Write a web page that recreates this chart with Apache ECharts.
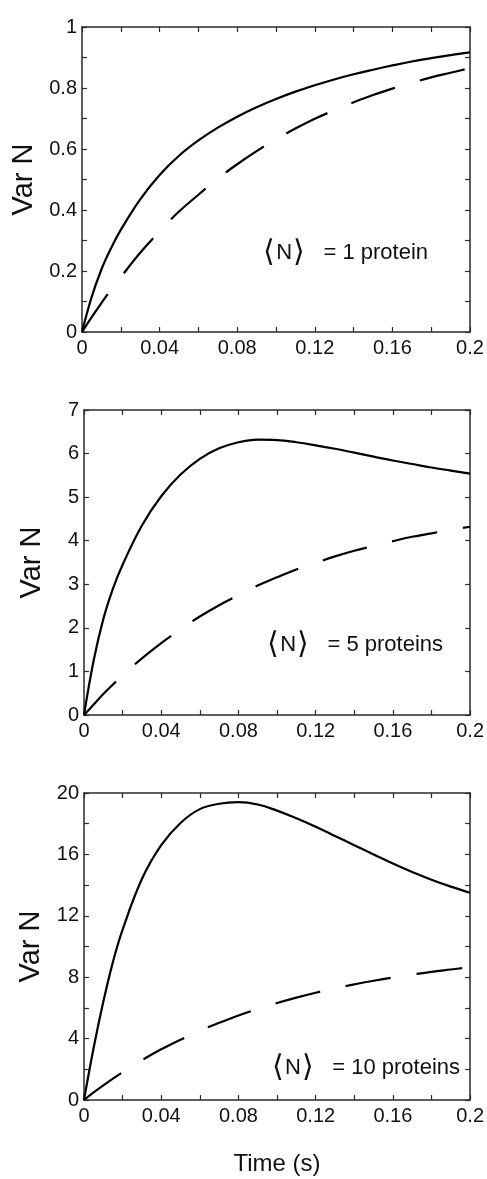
<!DOCTYPE html>
<html>
<head>
<meta charset="utf-8">
<script src="https://cdn.jsdelivr.net/npm/echarts@6/dist/echarts.min.js"></script>
<style>
  html, body { margin: 0; padding: 0; background: #ffffff; }
  #chart { width: 487px; height: 1179px; }
</style>
</head>
<body>
<div id="chart"></div>
<script>
// Sampling times (s)
const timeS = [0, 0.005, 0.01, 0.015, 0.02, 0.03, 0.04, 0.05, 0.06, 0.07, 0.08, 0.09, 0.10,
               0.11, 0.12, 0.13, 0.14, 0.15, 0.16, 0.17, 0.18, 0.19, 0.20];

// <N> = 1 protein
const var1Solid  = [0, 0.115, 0.205, 0.275, 0.335, 0.435, 0.515, 0.578, 0.628, 0.670, 0.706, 0.737, 0.764,
                    0.788, 0.809, 0.828, 0.845, 0.860, 0.874, 0.887, 0.898, 0.908, 0.917];
const var1Dashed = [0, 0.049, 0.095, 0.139, 0.18, 0.26, 0.33, 0.395, 0.45, 0.503, 0.55, 0.593, 0.632,
                    0.667, 0.699, 0.727, 0.753, 0.777, 0.798, 0.817, 0.835, 0.85, 0.865];

// <N> = 5 proteins
const var5Solid  = [0, 1.25, 2.2, 2.9, 3.45, 4.35, 5.02, 5.52, 5.88, 6.12, 6.26, 6.32, 6.31,
                    6.26, 6.19, 6.11, 6.02, 5.93, 5.84, 5.76, 5.68, 5.61, 5.54];
const var5Dashed = [0, 0.24, 0.48, 0.70, 0.91, 1.30, 1.65, 1.97, 2.26, 2.52, 2.75, 2.97, 3.16,
                    3.34, 3.49, 3.64, 3.77, 3.88, 3.99, 4.09, 4.17, 4.25, 4.32];

// <N> = 10 proteins
const var10Solid  = [0, 3.4, 6.4, 9.0, 11.1, 14.4, 16.6, 18.05, 18.95, 19.3, 19.4, 19.25, 18.85,
                     18.35, 17.8, 17.2, 16.6, 16.0, 15.4, 14.85, 14.35, 13.9, 13.5];
const var10Dashed = [0, 0.49, 0.95, 1.39, 1.81, 2.59, 3.30, 3.93, 4.51, 5.03, 5.51, 5.93, 6.32,
                     6.67, 6.99, 7.27, 7.53, 7.77, 7.98, 8.17, 8.35, 8.50, 8.65];

// Axis settings per panel
const yMax        = [1, 7, 20];
const yInterval   = [0.2, 1, 4];
const yMinorSplit = [2, 0, 2];
const panelLabels = ['1 protein', '5 proteins', '10 proteins'];

const FONT = '"Liberation Sans", Arial, Helvetica, sans-serif';
const INK = '#111';
const AXIS = '#2a2a2a';

const grids = [
  { left: 82, right: 17, top: 27,  height: 305 },
  { left: 84, right: 15, top: 410, height: 305 },
  { left: 84, right: 15, top: 793, height: 307 }
];

const lineStyle = { color: AXIS, width: 1.5 };
const tick = { show: true, inside: true, length: 5, lineStyle: { color: AXIS, width: 1.2 } };

const xAxes = [], yAxes = [], series = [];
const solidSets = [var1Solid, var5Solid, var10Solid];
const dashedSets = [var1Dashed, var5Dashed, var10Dashed];

grids.forEach((g, i) => {
  ['bottom', 'top'].forEach(pos => {
    xAxes.push({
      type: 'value', gridIndex: i, position: pos,
      min: 0, max: 0.2, interval: 0.04,
      axisLine: { show: true, onZero: false, lineStyle },
      axisTick: tick,
      minorTick: { show: true, splitNumber: 2, length: 5, lineStyle: { color: AXIS, width: 1.2 } },
      splitLine: { show: false },
      axisLabel: { show: pos === 'bottom', fontSize: 20, color: INK, fontFamily: FONT, margin: 6 },
      name: (i === 2 && pos === 'bottom') ? 'Time (s)' : '',
      nameLocation: 'middle', nameGap: 52,
      nameTextStyle: { fontSize: 24, color: INK, fontFamily: FONT }
    });
  });
  ['left', 'right'].forEach(pos => {
    yAxes.push({
      type: 'value', gridIndex: i, position: pos,
      min: 0, max: yMax[i], interval: yInterval[i],
      axisLine: { show: true, onZero: false, lineStyle },
      axisTick: tick,
      minorTick: { show: yMinorSplit[i] > 0, splitNumber: yMinorSplit[i] || 5, length: 5,
                   lineStyle: { color: AXIS, width: 1.2 } },
      splitLine: { show: false },
      axisLabel: { show: pos === 'left', fontSize: 20, color: INK, fontFamily: FONT, margin: 5 },
      name: pos === 'left' ? 'Var N' : '',
      nameLocation: 'middle', nameGap: 38,
      nameTextStyle: { fontSize: 29, color: INK, fontFamily: FONT }
    });
  });

  series.push({
    type: 'line', xAxisIndex: i * 2, yAxisIndex: i * 2,
    data: timeS.map((t, k) => [t, solidSets[i][k]]),
    showSymbol: false, smooth: 0.4,
    lineStyle: { color: '#000', width: 2.2 }, silent: true, animation: false
  });
  series.push({
    type: 'line', xAxisIndex: i * 2, yAxisIndex: i * 2,
    data: timeS.map((t, k) => [t, dashedSets[i][k]]),
    showSymbol: false, smooth: 0.4,
    lineStyle: { color: '#000', width: 2.2, type: [46, 26] }, silent: true, animation: false
  });
});

// "<N> = ..." annotations
const annoPos = [[428, 253], [443, 645], [460, 1068]];
const graphic = panelLabels.map((txt, i) => ({
  type: 'text', x: annoPos[i][0], y: annoPos[i][1], silent: true,
  style: {
    text: '{br|\u27E8}{n|N}{br|\u27E9}{t|   = ' + txt + '}',
    align: 'right', verticalAlign: 'middle',
    rich: {
      br: { fontSize: 30, fontFamily: '"DejaVu Sans", sans-serif', fill: INK, fontWeight: 200 },
      n:  { fontSize: 22, fontFamily: FONT, fill: INK, padding: [0, 1] },
      t:  { fontSize: 22, fontFamily: FONT, fill: INK }
    }
  }
}));

const chart = echarts.init(document.getElementById('chart'), null, { renderer: 'canvas' });
chart.setOption({
  animation: false,
  backgroundColor: '#ffffff',
  grid: grids,
  xAxis: xAxes,
  yAxis: yAxes,
  series,
  graphic
});
</script>
</body>
</html>
